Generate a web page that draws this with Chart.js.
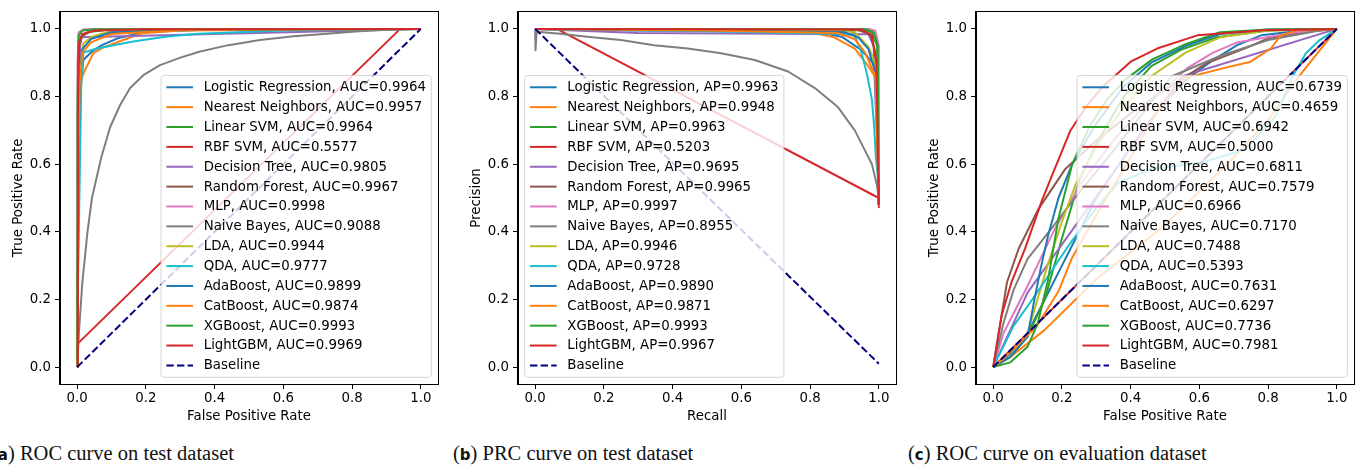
<!DOCTYPE html>
<html><head><meta charset="utf-8">
<script src="https://cdn.jsdelivr.net/npm/chart.js@4.4.1/dist/chart.umd.min.js"></script>
<style>
html,body{margin:0;padding:0;background:#fff;}
body{width:1358px;height:466px;position:relative;overflow:hidden;}
canvas{position:absolute;top:0;}
.cap{position:absolute;top:441px;font-family:"Liberation Serif",serif;font-size:20.5px;color:#111;white-space:nowrap;line-height:24px;}
.cap b{font-family:"DejaVu Sans",sans-serif;font-size:15px;font-weight:bold;}
</style>
</head><body>
<canvas id="ca" width="446" height="430" style="left:0px;width:446px;height:430px"></canvas>
<canvas id="cb" width="440" height="430" style="left:458px;width:440px;height:430px"></canvas>
<canvas id="cc" width="442" height="430" style="left:916px;width:442px;height:430px"></canvas>
<div class="cap" style="left:-9px">(<b>a</b>) ROC curve on test dataset</div>
<div class="cap" style="left:453px">(<b>b</b>) PRC curve on test dataset</div>
<div class="cap" style="left:908px">(<b>c</b>) ROC curve on evaluation dataset</div>
<script>
// ---------- data ----------
const models = ['Logistic Regression','Nearest Neighbors','Linear SVM','RBF SVM','Decision Tree','Random Forest','MLP','Naive Bayes','LDA','QDA','AdaBoost','CatBoost','XGBoost','LightGBM'];
const aucTest = [0.9964,0.9957,0.9964,0.5577,0.9805,0.9967,0.9998,0.9088,0.9944,0.9777,0.9899,0.9874,0.9993,0.9969];
const apTest  = [0.9963,0.9948,0.9963,0.5203,0.9695,0.9965,0.9997,0.8955,0.9946,0.9728,0.9890,0.9871,0.9993,0.9967];
const aucEval = [0.6739,0.4659,0.6942,0.5000,0.6811,0.7579,0.6966,0.7170,0.7488,0.5393,0.7631,0.6297,0.7736,0.7981];
const rateTicks = [0,0.2,0.4,0.6,0.8,1.0];

// (a) ROC on test dataset: [FPR, TPR]
const rocTestLR   = [[0,0],[0.003,0.45],[0.008,0.8],[0.018,0.908],[0.043,0.933],[0.072,0.952],[0.12,0.973],[0.198,0.991],[0.4,0.998],[1,1]];
const rocTestNN   = [[0,0],[0.002,0.4],[0.005,0.75],[0.009,0.845],[0.023,0.879],[0.047,0.928],[0.072,0.943],[0.12,0.962],[0.188,0.987],[0.3,0.995],[1,1]];
const rocTestLSVM = [[0,0],[0.002,0.6],[0.005,0.93],[0.012,0.975],[0.03,0.99],[0.08,0.997],[1,1]];
const rocTestRBF  = [[0,0],[0,0.068],[0.94,1],[1,1]];
const rocTestDT   = [[0,0],[0.004,0.5],[0.009,0.975],[1,1]];
const rocTestRF   = [[0,0],[0.002,0.7],[0.006,0.95],[0.015,0.98],[0.04,0.993],[0.1,0.998],[1,1]];
const rocTestMLP  = [[0,0],[0.001,0.9],[0.004,0.99],[0.02,0.999],[1,1]];
const rocTestNB   = [[0,0],[0.005,0.1],[0.015,0.25],[0.03,0.4],[0.043,0.5],[0.07,0.62],[0.096,0.71],[0.125,0.775],[0.154,0.825],[0.195,0.865],[0.241,0.893],[0.3,0.915],[0.358,0.933],[0.44,0.952],[0.532,0.967],[0.63,0.978],[0.726,0.986],[0.82,0.993],[0.92,0.998],[1,1]];
const rocTestLDA  = [[0,0],[0.003,0.6],[0.008,0.88],[0.018,0.957],[0.043,0.977],[0.09,0.991],[0.3,0.998],[1,1]];
const rocTestQDA  = [[0,0],[0.003,0.3],[0.008,0.6],[0.012,0.85],[0.018,0.93],[0.06,0.943],[0.159,0.962],[0.256,0.977],[0.352,0.986],[0.6,0.995],[1,1]];
const rocTestAda  = [[0,0],[0.003,0.5],[0.007,0.85],[0.015,0.94],[0.04,0.97],[0.1,0.99],[0.3,0.998],[1,1]];
const rocTestCat  = [[0,0],[0.003,0.55],[0.007,0.84],[0.015,0.93],[0.04,0.96],[0.1,0.985],[0.3,0.997],[1,1]];
const rocTestXGB  = [[0,0],[0.001,0.8],[0.004,0.98],[0.015,0.995],[0.05,0.999],[1,1]];
const rocTestLGBM = [[0,0],[0.002,0.75],[0.005,0.96],[0.015,0.985],[0.05,0.995],[0.2,0.999],[1,1]];
const rocBaseline = [[0,0],[1,1]];

// (b) PRC on test dataset: [Recall, Precision]
const prcTestLR   = [[0,1],[0.3,0.995],[0.6,0.993],[0.8,0.99],[0.85,0.985],[0.892,0.977],[0.95,0.937],[0.984,0.898],[0.997,0.84],[1,0.48]];
const prcTestNN   = [[0,1],[0.4,0.995],[0.8,0.99],[0.87,0.975],[0.93,0.942],[0.97,0.889],[0.997,0.845],[1,0.48]];
const prcTestLSVM = [[0,1],[0.5,0.999],[0.95,0.998],[0.98,0.99],[0.995,0.95],[1,0.48]];
const prcTestRBF  = [[0,1],[0.063,1],[1,0.5],[1,0.473]];
const prcTestDT   = [[0,1],[0.3,0.988],[0.97,0.984],[0.985,0.95],[0.99,0.79],[0.994,0.713],[1,0.48]];
const prcTestRF   = [[0,1],[0.5,0.998],[0.94,0.996],[0.975,0.985],[0.99,0.93],[1,0.48]];
const prcTestMLP  = [[0,1],[0.5,1],[0.97,1],[0.99,0.995],[1,0.95],[1,0.48]];
const prcTestNB   = [[0,1],[0.001,0.937],[0.004,0.99],[0.015,0.991],[0.073,0.986],[0.151,0.977],[0.249,0.967],[0.346,0.952],[0.444,0.942],[0.541,0.928],[0.639,0.908],[0.736,0.874],[0.814,0.825],[0.88,0.77],[0.93,0.7],[0.96,0.64],[0.98,0.6],[0.994,0.54],[1,0.5]];
const prcTestLDA  = [[0,1],[0.5,0.997],[0.9,0.993],[0.93,0.99],[0.97,0.947],[0.99,0.898],[0.997,0.84],[1,0.48]];
const prcTestQDA  = [[0,1],[0.5,0.993],[0.9,0.985],[0.93,0.981],[0.95,0.928],[0.965,0.869],[0.98,0.791],[0.987,0.703],[0.991,0.625],[0.997,0.566],[1,0.48]];
const prcTestAda  = [[0,1],[0.5,0.996],[0.9,0.99],[0.94,0.975],[0.97,0.94],[0.99,0.87],[1,0.48]];
const prcTestCat  = [[0,1],[0.5,0.995],[0.88,0.988],[0.93,0.97],[0.96,0.93],[0.99,0.86],[1,0.48]];
const prcTestXGB  = [[0,1],[0.5,1],[0.96,0.999],[0.985,0.99],[0.997,0.95],[1,0.48]];
const prcTestLGBM = [[0,1],[0.5,0.999],[0.95,0.998],[0.98,0.98],[0.993,0.9],[1,0.48]];
const prcBaseline = [[0,1],[1,0.01]];

// (c) ROC on evaluation dataset: [FPR, TPR]
const rocEvalLR   = [[0,0],[0.05,0.04],[0.1,0.1],[0.15,0.2],[0.2,0.3],[0.25,0.4],[0.3,0.5],[0.4,0.65],[0.48,0.76],[0.555,0.845],[0.633,0.903],[0.71,0.952],[0.78,0.981],[0.9,0.995],[1,1]];
const rocEvalNN   = [[0,0],[0.05,0.03],[0.15,0.11],[0.3,0.26],[0.5,0.42],[0.7,0.62],[0.8,0.73],[0.89,0.86],[1,1]];
const rocEvalLSVM = [[0,0],[0.05,0.03],[0.1,0.09],[0.15,0.2],[0.2,0.38],[0.25,0.55],[0.3,0.66],[0.38,0.8],[0.46,0.89],[0.55,0.94],[0.65,0.975],[0.8,0.995],[1,1]];
const rocEvalRBF  = [[0,0],[1,1]];
const rocEvalDT   = [[0,0],[0.1,0.22],[0.55,0.86],[1,1]];
const rocEvalRF   = [[0,0],[0.016,0.1],[0.04,0.25],[0.074,0.35],[0.132,0.468],[0.21,0.586],[0.3,0.67],[0.4,0.75],[0.5,0.82],[0.62,0.898],[0.735,0.943],[0.8,0.972],[0.9,0.991],[1,1]];
const rocEvalMLP  = [[0,0],[0.03,0.1],[0.1,0.24],[0.18,0.41],[0.26,0.55],[0.35,0.67],[0.42,0.75],[0.49,0.815],[0.565,0.884],[0.64,0.93],[0.71,0.96],[0.88,0.99],[1,1]];
const rocEvalNB   = [[0,0],[0.03,0.13],[0.06,0.23],[0.1,0.32],[0.17,0.41],[0.23,0.49],[0.35,0.64],[0.52,0.86],[0.66,0.92],[0.8,0.967],[0.95,0.995],[1,1]];
const rocEvalLDA  = [[0,0],[0.05,0.03],[0.1,0.1],[0.157,0.297],[0.2,0.43],[0.24,0.54],[0.3,0.65],[0.38,0.77],[0.46,0.86],[0.56,0.93],[0.66,0.975],[0.8,0.995],[1,1]];
const rocEvalQDA  = [[0,0],[0.059,0.121],[0.127,0.219],[0.224,0.366],[0.3,0.47],[0.365,0.546],[0.463,0.586],[0.608,0.605],[0.735,0.644],[0.822,0.742],[0.871,0.859],[0.91,0.928],[0.95,0.967],[1,1]];
const rocEvalAda  = [[0,0],[0.05,0.03],[0.1,0.09],[0.12,0.2],[0.14,0.3],[0.16,0.39],[0.19,0.5],[0.23,0.6],[0.3,0.72],[0.38,0.83],[0.46,0.9],[0.56,0.95],[0.66,0.985],[0.8,0.998],[1,1]];
const rocEvalCat  = [[0,0],[0.03,0.025],[0.127,0.121],[0.19,0.224],[0.229,0.322],[0.3,0.45],[0.4,0.62],[0.48,0.76],[0.555,0.854],[0.671,0.884],[0.749,0.903],[0.808,0.942],[0.837,0.981],[0.885,0.996],[1,1]];
const rocEvalXGB  = [[0,0],[0.05,0.014],[0.1,0.06],[0.13,0.13],[0.16,0.26],[0.19,0.44],[0.23,0.6],[0.28,0.71],[0.33,0.79],[0.385,0.85],[0.463,0.91],[0.56,0.955],[0.66,0.99],[0.8,0.998],[1,1]];
const rocEvalLGBM = [[0,0],[0.025,0.155],[0.054,0.253],[0.093,0.351],[0.142,0.493],[0.171,0.566],[0.224,0.698],[0.27,0.77],[0.32,0.83],[0.4,0.903],[0.477,0.942],[0.594,0.981],[0.787,0.996],[1,1]];

const rocTestCurves = [rocTestLR,rocTestNN,rocTestLSVM,rocTestRBF,rocTestDT,rocTestRF,rocTestMLP,rocTestNB,rocTestLDA,rocTestQDA,rocTestAda,rocTestCat,rocTestXGB,rocTestLGBM];
const prcTestCurves = [prcTestLR,prcTestNN,prcTestLSVM,prcTestRBF,prcTestDT,prcTestRF,prcTestMLP,prcTestNB,prcTestLDA,prcTestQDA,prcTestAda,prcTestCat,prcTestXGB,prcTestLGBM];
const rocEvalCurves = [rocEvalLR,rocEvalNN,rocEvalLSVM,rocEvalRBF,rocEvalDT,rocEvalRF,rocEvalMLP,rocEvalNB,rocEvalLDA,rocEvalQDA,rocEvalAda,rocEvalCat,rocEvalXGB,rocEvalLGBM];

// ---------- styling / building ----------
const palette = ['#1f77b4','#ff7f0e','#2ca02c','#d62728','#9467bd','#8c564b','#e377c2','#7f7f7f','#bcbd22','#17becf'];
const FONT = '"DejaVu Sans", sans-serif';
const FS = 13.33;

function buildDatasets(curves, scores, metric, baseline) {
  const ds = curves.map((pts, i) => ({
    label: models[i] + ', ' + metric + '=' + scores[i].toFixed(4),
    data: pts.map(p => ({x: p[0], y: p[1]})),
    borderColor: palette[i % 10],
    backgroundColor: palette[i % 10],
    borderWidth: 2,
    pointRadius: 0,
    pointHoverRadius: 0,
    showLine: true,
    fill: false,
    tension: 0,
    borderJoinStyle: 'round',
    order: 100 - i
  }));
  ds.push({
    label: 'Baseline',
    data: baseline.map(p => ({x: p[0], y: p[1]})),
    borderColor: '#000080',
    backgroundColor: '#000080',
    borderDash: [7.4, 3.2],
    borderWidth: 2,
    pointRadius: 0,
    pointHoverRadius: 0,
    showLine: true,
    fill: false,
    tension: 0,
    order: 0
  });
  return ds;
}

const insideLegend = {
  id: 'insideLegend',
  afterDatasetsDraw(chart, args, opts) {
    const ctx = chart.ctx, area = chart.chartArea;
    const fs = FS, pad = 0.4 * fs, handle = 2 * fs, htp = 0.8 * fs, gap = 0.5 * fs, rowH = 13.2, inset = 0.5 * fs;
    ctx.save();
    ctx.font = fs + 'px ' + FONT;
    const items = chart.data.datasets;
    let maxW = 0;
    items.forEach(d => { maxW = Math.max(maxW, ctx.measureText(d.label).width); });
    const w = pad + handle + htp + maxW + pad;
    const h = 2 * pad + items.length * rowH + (items.length - 1) * gap;
    const x = opts.corner === 'll' ? area.left + inset : area.right - inset - w;
    const y = area.bottom - inset - h;
    const r = 3;
    ctx.beginPath();
    ctx.moveTo(x + r, y);
    ctx.lineTo(x + w - r, y); ctx.arcTo(x + w, y, x + w, y + r, r);
    ctx.lineTo(x + w, y + h - r); ctx.arcTo(x + w, y + h, x + w - r, y + h, r);
    ctx.lineTo(x + r, y + h); ctx.arcTo(x, y + h, x, y + h - r, r);
    ctx.lineTo(x, y + r); ctx.arcTo(x, y, x + r, y, r);
    ctx.closePath();
    ctx.fillStyle = 'rgba(255,255,255,0.8)';
    ctx.fill();
    ctx.strokeStyle = 'rgba(204,204,204,0.8)';
    ctx.lineWidth = 1;
    ctx.stroke();
    items.forEach((d, i) => {
      const cy = y + pad + rowH / 2 + i * (rowH + gap);
      ctx.beginPath();
      ctx.setLineDash(d.borderDash || []);
      ctx.strokeStyle = d.borderColor;
      ctx.lineWidth = 2;
      ctx.moveTo(x + pad, cy);
      ctx.lineTo(x + pad + handle, cy);
      ctx.stroke();
      ctx.setLineDash([]);
      ctx.fillStyle = '#000';
      ctx.textBaseline = 'middle';
      ctx.textAlign = 'left';
      ctx.fillText(d.label, x + pad + handle + htp, cy + 0.5);
    });
    ctx.strokeStyle = '#000';
    ctx.lineWidth = 1;
    ctx.strokeRect(Math.round(area.left) - 0.5, Math.round(area.top) - 0.5, Math.round(area.right - area.left) + 1, Math.round(area.bottom - area.top) + 1);
    ctx.restore();
  }
};

function axis(title, fitFn, isY) {
  return {
    type: 'linear', min: -0.05, max: 1.05,
    afterBuildTicks: s => { s.ticks = rateTicks.map(v => ({value: v})); },
    afterFit: fitFn,
    ticks: { callback: v => Number(v).toFixed(1), color: '#000', font: {family: FONT, size: FS}, padding: isY ? 4 : 2, maxRotation: 0, autoSkip: false },
    grid: { display: true, drawOnChartArea: false, drawTicks: true, tickLength: 5, color: '#000', lineWidth: 1 },
    border: { display: true, color: '#000', width: 1 },
    title: { display: true, text: title, color: '#000', font: {family: FONT, size: FS}, padding: isY ? {top: 11, bottom: 0} : {top: 0, bottom: 5} }
  };
}

function makeChart(id, datasets, xTitle, yTitle, rightPad, corner) {
  return new Chart(document.getElementById(id), {
    type: 'scatter',
    data: { datasets },
    options: {
      responsive: false, animation: false, devicePixelRatio: 1,
      events: [],
      layout: { padding: { top: 9, right: rightPad, left: 0, bottom: 0 } },
      plugins: { legend: { display: false }, tooltip: { enabled: false }, insideLegend: { corner } },
      scales: {
        x: axis(xTitle, s => { s.height = 46; }, false),
        y: axis(yTitle, s => { s.width = 60; }, true)
      }
    },
    plugins: [insideLegend]
  });
}

makeChart('ca', buildDatasets(rocTestCurves, aucTest, 'AUC', rocBaseline), 'False Positive Rate', 'True Positive Rate', 8, 'lr');
makeChart('cb', buildDatasets(prcTestCurves, apTest, 'AP', prcBaseline), 'Recall', 'Precision', 2, 'll');
makeChart('cc', buildDatasets(rocEvalCurves, aucEval, 'AUC', rocBaseline), 'False Positive Rate', 'True Positive Rate', 4, 'lr');
</script>
</body></html>
